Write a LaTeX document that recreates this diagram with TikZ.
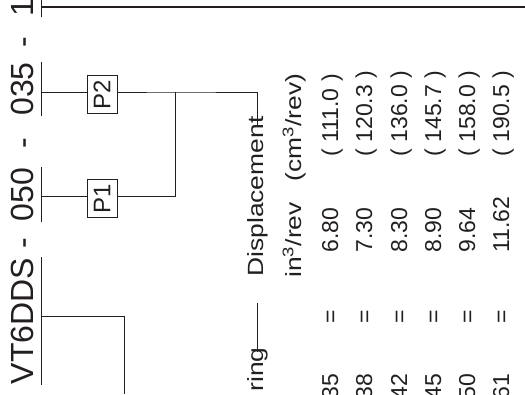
\documentclass[tikz,border=0pt]{standalone}
\usepackage{fontspec}
\setmainfont{Liberation Sans}
\newfontfamily\tabfont[FakeStretch=1.2]{Liberation Sans}
\usetikzlibrary{calc}
\definecolor{ink}{HTML}{231F20}
\begin{document}
\begin{tikzpicture}[x=1pt,y=-1pt,line width=0.9pt,draw=ink,
  hdr/.style={rotate=90,inner sep=0pt,text height=23pt,text depth=0pt,font=\fontsize{32}{32}\selectfont,text=ink},
  tab/.style={rotate=90,inner sep=0pt,font=\tabfont\fontsize{22}{22}\selectfont,text=ink},
  num/.style={rotate=90,inner sep=0pt,font=\fontsize{23}{23}\selectfont,text=ink},
  pbox/.style={rotate=90,draw=ink,line width=0.9pt,inner sep=0pt,minimum width=38pt,minimum height=30pt,font=\fontsize{24}{24}\selectfont,text=ink},
  uline/.style={line width=0.9pt},
  conn/.style={line width=0.9pt},
  topconn/.style={line width=1.4pt}]
\useasboundingbox (0,0) rectangle (525,394);
\clip (0,0) rectangle (525,394);

% header segments
\node[hdr,anchor=base] (hv) at (33,321) {VT6DDS};
\node[hdr,anchor=base] (hd1) at (33,243) {-};
\node[hdr,anchor=base] (h050) at (33,194.5) {050};
\node[hdr,anchor=base] (hd2) at (33,143) {-};
\node[hdr,anchor=base] (h035) at (33,89) {035};
\node[hdr,anchor=base] (hd3) at (33,42) {-};
\node[hdr,anchor=base] (h1) at (33,8) {1};

\foreach \n in {hv,h050,h035,h1}
  \draw[uline] ([xshift=7.5pt]\n.south west) -- ([xshift=7.5pt]\n.south east);

% boxes
\node[pbox] (P2) at (102,94.5) {P2};
\node[pbox] (P1) at (102,198.5) {P1};

% coordinates
\coordinate (c1) at (40.5,7);
\coordinate (e1) at (525,7);
\coordinate (c035) at (40.5,92);
\coordinate (c050) at (40.5,196);
\coordinate (cv) at (40.5,316);
\coordinate (cvb) at (124,316);
\coordinate (cve) at (124,394);
\coordinate (j2) at (175,92);
\coordinate (j1) at (175,196);
\coordinate (d1) at (257,92);
\coordinate (rl) at (257,303);

% table
\node[tab,anchor=base west] (disp) at (263,277) {Displacement};
\node[tab,anchor=base east] (ring) at (263,347) {ring};
\node[tab,anchor=base west] (unitin) at (301,278) {in\textsuperscript{3}/rev};
\node[tab,anchor=base west] (unitcm) at (301,182) {(cm\textsuperscript{3}/rev)};

\foreach \bx/\code/\inr/\cmr [count=\i] in {338/35/6.80/111.0, 372/38/7.30/120.3, 407/42/8.30/136.0, 441/45/8.90/145.7, 475/50/9.64/158.0, 509/61/11.62/190.5}{
  \node[num,anchor=base east] (code\i) at (\bx,373) {\code};
  \node[num,anchor=base] (eq\i) at (\bx,317) {=};
  \node[num,anchor=base west] (in\i) at (\bx,253) {\inr};
  \node[num,anchor=base west] (cm\i) at (\bx,157) {( \cmr\ )};
}

\coordinate (dend) at ($(disp.east)+(0,10)$);
\coordinate (rend) at ($(ring.east)+(0,5)$);

% connectors
\draw[topconn] (c1) -- (e1);
\draw[conn] (c035) -- (c035 -| P2.north);
\draw[conn] (P2.south |- c035) -- (j2) -- (d1) -- (d1 |- dend);
\draw[conn] (c050) -- (c050 -| P1.north);
\draw[conn] (P1.south |- c050) -- (j1) -- (j2);
\draw[conn] (cv) -- (cvb) -- (cve);
\draw[conn] (rl) -- (rl |- rend);
\end{tikzpicture}
\end{document}
